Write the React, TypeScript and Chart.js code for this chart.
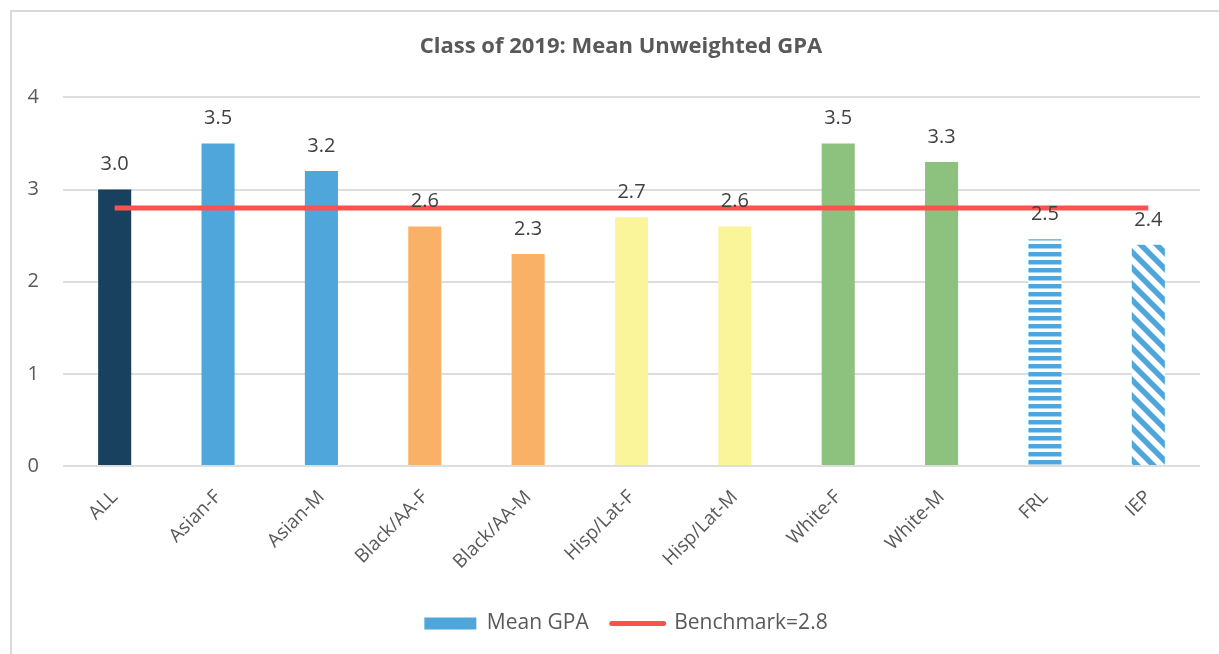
import React, { useEffect, useRef } from "react";
import { Chart, registerables } from "chart.js";

Chart.register(...registerables);

const categories = ["ALL", "Asian-F", "Asian-M", "Black/AA-F", "Black/AA-M", "Hisp/Lat-F", "Hisp/Lat-M", "White-F", "White-M", "FRL", "IEP"];
const meanGpa = [3.0, 3.5, 3.2, 2.6, 2.3, 2.7, 2.6, 3.5, 3.3, 2.46, 2.4];
const benchmark = [2.8, 2.8, 2.8, 2.8, 2.8, 2.8, 2.8, 2.8, 2.8, 2.8, 2.8];
const yTicks = [0, 1, 2, 3, 4];
const barColors = ["#17415E", "#4EA6DA", "#4EA6DA", "#F9B167", "#F9B167", "#FAF49A", "#FAF49A", "#8DC17E", "#8DC17E", "hstripe", "dstripe"];

const FONT = "'Open Sans', 'Noto Sans', sans-serif";
const BLUE = "#4EA6DA";
const RED = "#FF5050";

function makePattern(kind: string): CanvasPattern | string {
  const c = document.createElement("canvas");
  const ctx = c.getContext("2d")!;
  if (kind === "hstripe") {
    c.width = 8; c.height = 8;
    ctx.fillStyle = "#ffffff";
    ctx.fillRect(0, 0, 8, 8);
    ctx.fillStyle = BLUE;
    ctx.fillRect(0, 0, 8, 4.5);
  } else {
    c.width = 16; c.height = 16;
    ctx.fillStyle = "#ffffff";
    ctx.fillRect(0, 0, 16, 16);
    ctx.strokeStyle = BLUE;
    ctx.lineWidth = 5.5;
    ctx.beginPath();
    ctx.moveTo(-4, -4); ctx.lineTo(20, 20);
    ctx.moveTo(-12, 4); ctx.lineTo(12, 28);
    ctx.moveTo(4, -12); ctx.lineTo(28, 12);
    ctx.stroke();
  }
  return ctx.createPattern(c, "repeat") || BLUE;
}

const labelPlugin = {
  id: "barLabels",
  afterLayout(chart: any) {
    if (chart.legend) chart.legend.left += 40;
    if (chart.titleBlock) chart.titleBlock.left += 30;
  },
  afterDatasetsDraw(chart: any) {
    const meta = chart.getDatasetMeta(0);
    const ctx = chart.ctx;
    ctx.save();
    ctx.font = `20px ${FONT}`;
    ctx.fillStyle = "#404040";
    ctx.textAlign = "center";
    ctx.textBaseline = "middle";
    meta.data.forEach((bar: any, i: number) => {
      const v = chart.data.datasets[0].data[i] as number;
      ctx.fillText(v.toFixed(1), bar.x, bar.y - 25);
    });
    ctx.restore();
  },
};

export default function App() {
  const ref = useRef<HTMLCanvasElement>(null);
  useEffect(() => {
    const bg = barColors.map((c) => (c === "hstripe" || c === "dstripe" ? makePattern(c) : c));
    const chart = new Chart(ref.current!, {
      type: "bar",
      data: {
        labels: categories,
        datasets: [
          {
            type: "bar",
            label: "Mean GPA",
            data: meanGpa,
            backgroundColor: bg as any,
            borderWidth: 0,
            barPercentage: 0.32,
            categoryPercentage: 1,
            order: 2,
          },
          {
            type: "line",
            label: "Benchmark=2.8",
            data: benchmark,
            borderColor: RED,
            backgroundColor: RED,
            borderWidth: 5,
            pointRadius: 0,
            order: 1,
          } as any,
        ],
      },
      options: {
        responsive: false,
        animation: false,
        devicePixelRatio: 1,
        layout: { padding: { left: 0, right: 19, top: 0, bottom: 0 } },
        plugins: {
          tooltip: { enabled: false },
          title: {
            display: true,
            text: "Class of 2019: Mean Unweighted GPA",
            color: "#595959",
            font: { family: FONT, size: 22, weight: "bold" },
            padding: { top: 22, bottom: 37 },
          },
          legend: {
            position: "bottom",
            labels: {
              usePointStyle: true,
              pointStyleWidth: 52,
              boxHeight: 12,
              padding: 23,
              color: "#595959",
              font: { family: FONT, size: 21 },
              generateLabels: () => [
                { text: "Mean GPA", fillStyle: BLUE, strokeStyle: BLUE, lineWidth: 0, pointStyle: "rect", datasetIndex: 0, hidden: false, fontColor: "#595959" } as any,
                { text: "Benchmark=2.8", fillStyle: RED, strokeStyle: RED, lineWidth: 5, lineCap: "round", pointStyle: "line", datasetIndex: 1, hidden: false, fontColor: "#595959" } as any,
              ],
            },
          },
        },
        scales: {
          x: {
            grid: { display: false },
            border: { display: false },
            ticks: {
              color: "#595959",
              font: { family: FONT, size: 19 },
              maxRotation: 45,
              minRotation: 45,
              padding: 12,
            },
            afterFit: (s: any) => { s.height = 124; },
          },
          y: {
            min: 0,
            max: 4,
            afterBuildTicks: (s: any) => { s.ticks = yTicks.map((v) => ({ value: v })); },
            grid: { color: "#DDDDDD", lineWidth: 2, drawTicks: false },
            border: { display: false },
            ticks: {
              color: "#595959",
              font: { family: FONT, size: 20 },
              padding: 24,
            },
            afterFit: (s: any) => { s.width = 51; },
          },
        },
      },
      plugins: [labelPlugin],
    });
    return () => chart.destroy();
  }, []);

  return (
    <div
      style={{
        position: "fixed",
        left: 10,
        top: 10,
        width: 1209,
        height: 644,
        borderTop: "2px solid #D9D9D9",
        borderLeft: "2px solid #D9D9D9",
        overflow: "hidden",
        background: "#fff",
      }}
    >
      <canvas ref={ref} width={1207} height={632} style={{ display: "block" }} />
    </div>
  );
}
